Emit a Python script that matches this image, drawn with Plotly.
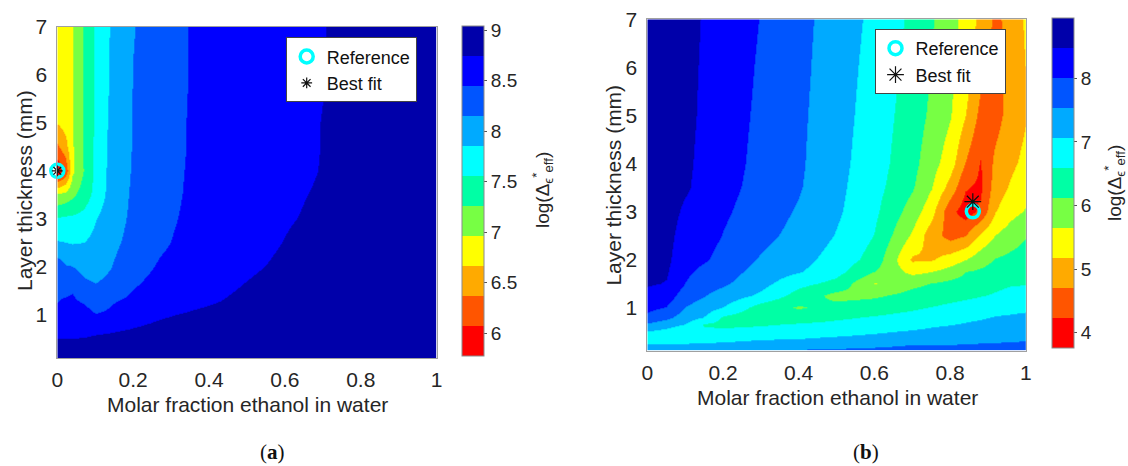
import plotly.graph_objects as go

# ---------------- data ----------------
# Panel (a)
xa = [0, 0.02, 0.04, 0.07, 0.1, 0.14, 0.2, 0.27, 0.35, 0.45, 0.55, 0.65, 0.75, 0.85, 1.0]
ya = [0.1, 0.3, 0.5, 0.7, 1.0, 1.3, 1.6, 2.0, 2.5, 3.0, 3.5, 4.0, 4.5, 5.0, 6.0, 7.0]
za = [
    [8.92, 8.92, 8.92, 8.92, 8.92, 8.92, 8.92, 8.92, 8.92, 8.92, 8.94, 8.94, 8.95, 8.96, 8.97],
    [8.86, 8.86, 8.86, 8.86, 8.85, 8.86, 8.88, 8.89, 8.91, 8.91, 8.92, 8.93, 8.94, 8.95, 8.96],
    [8.75, 8.75, 8.75, 8.76, 8.79, 8.80, 8.83, 8.85, 8.88, 8.89, 8.91, 8.92, 8.94, 8.95, 8.95],
    [8.67, 8.67, 8.67, 8.66, 8.69, 8.72, 8.76, 8.80, 8.85, 8.86, 8.89, 8.91, 8.93, 8.94, 8.95],
    [8.55, 8.55, 8.55, 8.54, 8.46, 8.49, 8.66, 8.72, 8.77, 8.82, 8.86, 8.89, 8.92, 8.94, 8.95],
    [8.44, 8.48, 8.48, 8.42, 8.33, 8.42, 8.51, 8.61, 8.69, 8.76, 8.83, 8.88, 8.91, 8.92, 8.94],
    [8.39, 8.36, 8.42, 8.24, 8.17, 8.24, 8.43, 8.55, 8.63, 8.72, 8.80, 8.86, 8.89, 8.91, 8.92],
    [8.33, 8.18, 8.16, 8.03, 8.02, 8.14, 8.33, 8.48, 8.58, 8.67, 8.75, 8.83, 8.88, 8.89, 8.91],
    [7.88, 7.86, 7.84, 7.86, 7.94, 8.08, 8.24, 8.40, 8.54, 8.63, 8.71, 8.80, 8.85, 8.88, 8.89],
    [7.59, 7.62, 7.62, 7.67, 7.84, 8.02, 8.21, 8.36, 8.51, 8.60, 8.69, 8.76, 8.82, 8.86, 8.88],
    [7.02, 7.08, 7.20, 7.41, 7.65, 7.96, 8.20, 8.33, 8.49, 8.58, 8.66, 8.74, 8.80, 8.85, 8.88],
    [5.83, 6.13, 6.90, 7.29, 7.62, 7.94, 8.18, 8.32, 8.48, 8.57, 8.65, 8.72, 8.79, 8.83, 8.87],
    [6.31, 6.55, 6.93, 7.30, 7.62, 7.93, 8.17, 8.31, 8.47, 8.56, 8.64, 8.72, 8.78, 8.83, 8.87],
    [6.68, 6.78, 6.95, 7.32, 7.60, 7.91, 8.17, 8.31, 8.47, 8.55, 8.63, 8.72, 8.78, 8.83, 8.87],
    [6.72, 6.83, 6.95, 7.32, 7.60, 7.88, 8.16, 8.30, 8.46, 8.54, 8.63, 8.71, 8.77, 8.83, 8.87],
    [6.75, 6.84, 6.95, 7.32, 7.59, 7.87, 8.14, 8.30, 8.46, 8.54, 8.62, 8.71, 8.77, 8.83, 8.87],
]
ref_a = (0.0, 4.0)
best_a = (0.0, 4.0)

# Panel (b)
xb = [0, 0.05, 0.1, 0.15, 0.2, 0.3, 0.4, 0.5, 0.6, 0.7, 0.75, 0.8, 0.84, 0.88, 0.92, 0.96, 1.0]
yb = [0.1, 0.2, 0.35, 0.5, 0.65, 0.8, 1.0, 1.25, 1.5, 1.75, 2.0, 2.5, 3.0, 3.5, 4.0, 5.0, 6.0, 7.0]
zb = [
    [7.25, 7.27, 7.29, 7.32, 7.34, 7.50, 7.55, 7.58, 7.60, 7.62, 7.63, 7.65, 7.66, 7.67, 7.67, 7.68, 7.69],
    [7.13, 7.13, 7.15, 7.17, 7.20, 7.32, 7.41, 7.43, 7.48, 7.54, 7.54, 7.55, 7.56, 7.58, 7.59, 7.60, 7.61],
    [6.87, 6.82, 6.80, 6.87, 6.89, 6.99, 7.04, 7.13, 7.20, 7.29, 7.34, 7.36, 7.39, 7.41, 7.43, 7.46, 7.48],
    [7.04, 6.92, 6.68, 6.68, 6.70, 6.75, 6.84, 6.87, 6.99, 7.10, 7.15, 7.20, 7.25, 7.27, 7.32, 7.34, 7.36],
    [7.46, 7.25, 7.04, 6.54, 6.47, 6.54, 6.63, 6.70, 6.80, 6.89, 6.99, 7.04, 7.09, 7.15, 7.20, 7.22, 7.25],
    [7.88, 7.65, 7.29, 7.03, 6.51, 6.26, 6.35, 6.51, 6.63, 6.75, 6.82, 6.89, 6.96, 7.01, 7.08, 7.10, 7.13],
    [8.12, 7.98, 7.52, 7.29, 7.04, 6.37, 6.07, 6.26, 6.35, 6.51, 6.60, 6.68, 6.75, 6.82, 6.92, 6.96, 6.99],
    [8.33, 8.24, 7.76, 7.55, 7.34, 6.96, 6.40, 5.97, 6.04, 6.26, 6.35, 6.44, 6.49, 6.56, 6.63, 6.73, 6.77],
    [8.52, 8.45, 7.99, 7.72, 7.60, 7.20, 6.73, 6.44, 5.62, 6.00, 6.12, 6.23, 6.30, 6.40, 6.47, 6.54, 6.56],
    [8.57, 8.52, 8.09, 7.88, 7.74, 7.34, 7.10, 6.75, 6.12, 5.50, 5.62, 5.83, 6.10, 6.18, 6.28, 6.40, 6.44],
    [8.61, 8.57, 8.17, 8.05, 7.84, 7.48, 7.22, 6.87, 6.40, 5.10, 5.12, 5.38, 5.62, 5.92, 6.14, 6.23, 6.33],
    [8.66, 8.61, 8.28, 8.19, 7.98, 7.65, 7.39, 7.03, 6.57, 5.57, 4.91, 4.51, 4.68, 5.24, 5.65, 5.88, 6.09],
    [8.68, 8.64, 8.40, 8.28, 8.07, 7.76, 7.48, 7.13, 6.68, 5.90, 5.34, 4.37, 3.99, 4.32, 5.15, 5.48, 5.69],
    [8.71, 8.66, 8.52, 8.34, 8.14, 7.84, 7.57, 7.17, 6.75, 6.16, 5.67, 4.98, 4.27, 4.13, 4.93, 5.22, 5.45],
    [8.73, 8.67, 8.54, 8.37, 8.18, 7.87, 7.60, 7.20, 6.80, 6.26, 5.83, 5.38, 4.68, 4.20, 4.82, 5.08, 5.29],
    [8.76, 8.68, 8.57, 8.40, 8.21, 7.91, 7.62, 7.25, 6.84, 6.35, 6.02, 5.67, 5.18, 4.56, 4.51, 4.91, 5.15],
    [8.76, 8.68, 8.58, 8.42, 8.25, 7.94, 7.65, 7.28, 6.89, 6.42, 6.10, 5.76, 5.41, 4.84, 4.49, 4.84, 5.19],
    [8.76, 8.68, 8.59, 8.44, 8.28, 7.98, 7.67, 7.32, 6.94, 6.49, 6.16, 5.81, 5.48, 5.05, 4.60, 4.85, 5.26],
]
ref_b = (0.86, 3.0)
best_b = (0.86, 3.2)

# colour-bar ranges (11 equal bands between these limits)
zlim_a = (5.772, 9.043)
zlim_b = (3.755, 8.943)
cb_ticks_a = [6, 6.5, 7, 7.5, 8, 8.5, 9]
cb_ticks_b = [4, 5, 6, 7, 8]
x_ticks = [0, 0.2, 0.4, 0.6, 0.8, 1]
y_ticks = [1, 2, 3, 4, 5, 6, 7]

# ---------------- styling ----------------
W, H = 1128, 466
FONT = "Liberation Sans, Arial, sans-serif"
TXT = "#262626"
BAND_COLORS = ['#FF0000', '#FF5500', '#FFAA00', '#FFFF00', '#77FF44', '#00FFA5',
               '#00FFFF', '#00AAFF', '#0055FF', '#0000FF', '#0000AA']
NB = len(BAND_COLORS)
cscale = []
for k, c in enumerate(BAND_COLORS):
    cscale.append([k / NB, c])
    cscale.append([(k + 1) / NB, c])


def px_x(p):
    return p / W


def px_y(p):
    return 1 - p / H


def field(x, y, z, zlim, ticks, xref, yref, cb_left, cb_top, cb_len):
    return go.Heatmap(
        x=x, y=y, z=z, xaxis=xref, yaxis=yref, zsmooth='best',
        zmin=zlim[0], zmax=zlim[1], colorscale=cscale,
        showlegend=False, hoverinfo='skip',
        colorbar=dict(
            x=px_x(cb_left), xanchor='left', xpad=0, ypad=0,
            y=px_y(cb_top), yanchor='top',
            len=cb_len, lenmode='pixels', thickness=21.5, thicknessmode='pixels',
            tickvals=ticks, ticks='outside', ticklen=3, tickcolor='#555',
            tickfont=dict(family=FONT, size=19, color=TXT),
            outlinecolor='#8a8a8a', outlinewidth=1,
        ),
    )


fig = go.Figure()
fig.add_trace(field(xa, ya, za, zlim_a, cb_ticks_a, 'x', 'y', 462.4, 26.0, 330))
fig.add_trace(field(xb, yb, zb, zlim_b, cb_ticks_b, 'x2', 'y2', 1051.6, 18.3, 329.5))

# markers
for (ref, best, xr, yr, lg, asz) in [(ref_a, best_a, 'x', 'y', 'legend', 9),
                                      (ref_b, best_b, 'x2', 'y2', 'legend2', 14)]:
    fig.add_trace(go.Scatter(
        x=[ref[0]], y=[ref[1]], xaxis=xr, yaxis=yr, mode='markers', name='Reference',
        legend=lg, cliponaxis=False,
        marker=dict(symbol='circle-open', size=13, color='#00FFFF', line=dict(width=3.5, color='#00FFFF')),
    ))
    fig.add_trace(go.Scatter(
        x=[best[0]], y=[best[1]], xaxis=xr, yaxis=yr, mode='markers', name='Best fit',
        legend=lg, cliponaxis=False,
        marker=dict(symbol='asterisk-open', size=asz, color='#111111', line=dict(width=1.2, color='#111111')),
    ))

axis_common = dict(showgrid=False, zeroline=False, showline=True, mirror=True,
                   linecolor='#a0a0a0', linewidth=1, ticks='',
                   tickfont=dict(family=FONT, size=21, color=TXT))

legend_common = dict(bgcolor='white', bordercolor='#444', borderwidth=1,
                     font=dict(family=FONT, size=18, color='#111'),
                     xanchor='left', yanchor='top', tracegroupgap=0,
                     itemsizing='trace')

fig.update_layout(
    width=W, height=H, margin=dict(l=0, r=0, t=0, b=0, autoexpand=False),
    paper_bgcolor='white', plot_bgcolor='white',
    font=dict(family=FONT, color=TXT),
    xaxis=dict(domain=[px_x(57.3), px_x(436.6)], range=[0, 1], tickvals=x_ticks,
               anchor='y', ticklabelstandoff=3, **axis_common),
    yaxis=dict(domain=[px_y(358.2), px_y(26.7)], range=[0.1, 7], tickvals=y_ticks,
               anchor='x', ticklabelstandoff=5, **axis_common),
    xaxis2=dict(domain=[px_x(647.3), px_x(1025.8)], range=[0, 1], tickvals=x_ticks,
                anchor='y2', ticklabelstandoff=3, **axis_common),
    yaxis2=dict(domain=[px_y(350.5), px_y(19.3)], range=[0.1, 7], tickvals=y_ticks,
                anchor='x2', ticklabelstandoff=5, **axis_common),
    legend=dict(x=px_x(285.7), y=px_y(37.3), **legend_common),
    legend2=dict(x=px_x(874.5), y=px_y(29), **legend_common),
)

annots = [
    dict(text='Molar fraction ethanol in water', x=px_x(247), y=px_y(404), font_size=21),
    dict(text='Molar fraction ethanol in water', x=px_x(837), y=px_y(397), font_size=21),
    dict(text='Layer thickness (mm)', x=px_x(25), y=px_y(191), font_size=21, textangle=-90),
    dict(text='Layer thickness (mm)', x=px_x(613.6), y=px_y(185), font_size=21, textangle=-90),
    dict(text='log(Δ<sub>ϵ</sub><sup>*</sup><sub>eff</sub>)', x=px_x(542), y=px_y(190), font_size=19, textangle=-90),
    dict(text='log(Δ<sub>ϵ</sub><sup>*</sup><sub>eff</sub>)', x=px_x(1114), y=px_y(183), font_size=19, textangle=-90),
]
for a in annots:
    fs = a.pop('font_size')
    fig.add_annotation(xref='paper', yref='paper', showarrow=False,
                       xanchor='center', yanchor='middle',
                       font=dict(family=FONT, size=fs, color=TXT), **a)

for txt, xc in [('(<b>a</b>)', 272), ('(<b>b</b>)', 866)]:
    fig.add_annotation(xref='paper', yref='paper', showarrow=False, text=txt,
                       x=px_x(xc), y=px_y(452), xanchor='center', yanchor='middle',
                       font=dict(family='Liberation Serif, DejaVu Serif, serif', size=21, color='#111'))

fig.write_html("out.html")
